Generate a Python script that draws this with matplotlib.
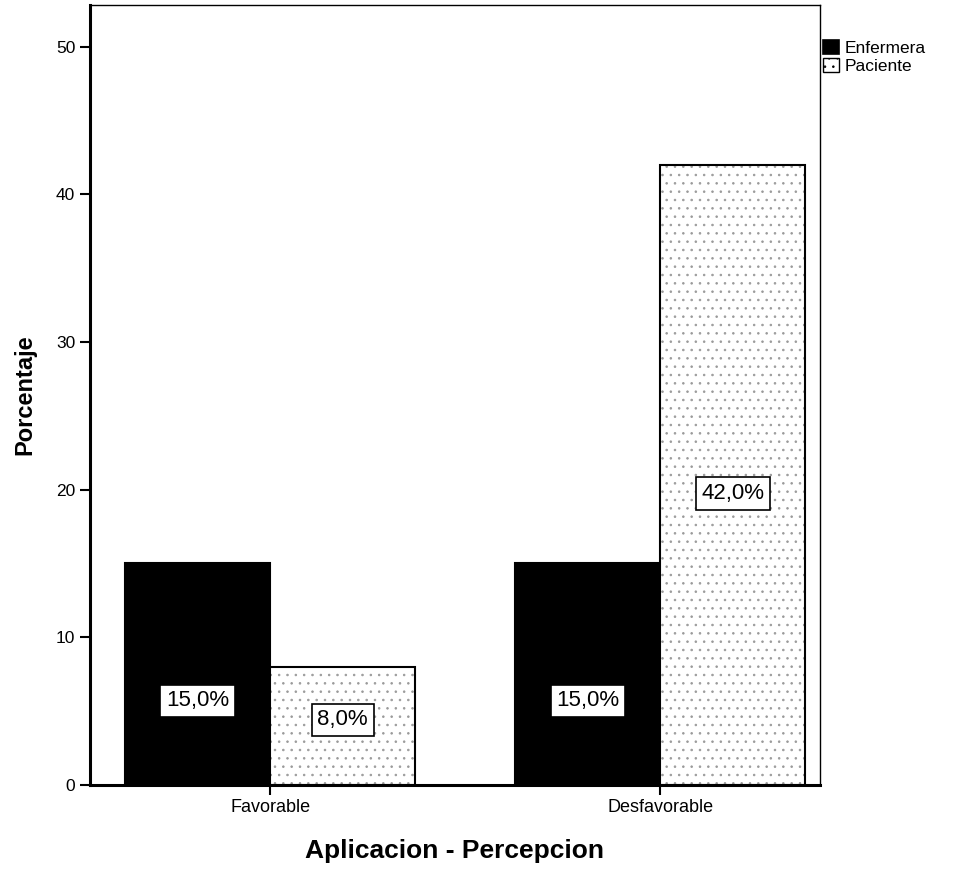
import numpy as np
import matplotlib
matplotlib.use('Agg')
import matplotlib.pyplot as plt
from matplotlib.patches import Patch

plt.rcParams['font.family'] = ['Liberation Sans', 'DejaVu Sans']
plt.rcParams['hatch.linewidth'] = 0.6

# Data
categories = ['Favorable', 'Desfavorable']
series_names = ['Enfermera', 'Paciente']
enfermera = [15.0, 15.0]
paciente = [8.0, 42.0]
y_ticks = [0, 10, 20, 30, 40, 50]

# label height as a fraction of the bar (style)
label_frac_enf = [0.38, 0.38]
label_frac_pac = [0.55, 0.47]

fig = plt.figure(figsize=(9.66, 8.96), dpi=100)
ax = fig.add_axes([0.093, 0.124, 0.756, 0.870])

x = np.arange(len(categories))
w = 0.372

bars_e = ax.bar(x - w / 2, enfermera, width=w, color='black',
                edgecolor='black', linewidth=1.5)
bars_p = ax.bar(x + w / 2, paciente, width=w, color='white',
                edgecolor='#9a9a9a', linewidth=0, hatch='..')
# black outline on top of the dotted fill
for b in bars_p:
    ax.add_patch(plt.Rectangle(b.get_xy(), b.get_width(), b.get_height(),
                               fill=False, edgecolor='black', linewidth=1.5))

box = dict(boxstyle='square,pad=0.25', facecolor='white',
           edgecolor='black', linewidth=1.2)
for bars, fracs in [(bars_e, label_frac_enf), (bars_p, label_frac_pac)]:
    for b, f in zip(bars, fracs):
        h = b.get_height()
        ax.text(b.get_x() + b.get_width() / 2, h * f,
                f'{h:.1f}%'.replace('.', ','),
                ha='center', va='center', fontsize=16, bbox=box)

ax.set_xlim(-0.462, 1.41)
ax.set_ylim(0, 52.8)
ax.set_xticks(x)
ax.set_xticklabels(categories, fontsize=13)
ax.set_yticks(y_ticks)
ax.set_yticklabels([str(t) for t in y_ticks], fontsize=12.5)
ax.tick_params(axis='both', direction='out', length=7, width=1.5, color='black')

for s in ['left', 'bottom']:
    ax.spines[s].set_linewidth(2.2)
for s in ['top', 'right']:
    ax.spines[s].set_linewidth(1.0)

ax.set_ylabel('Porcentaje', fontsize=17, fontweight='bold', labelpad=14)
ax.set_xlabel('Aplicacion - Percepcion', fontsize=19, fontweight='bold', labelpad=16)

handles = [Patch(facecolor='black', edgecolor='black', linewidth=1.2),
           Patch(facecolor='white', edgecolor='black', linewidth=1.0, hatch='..')]
ax.legend(handles, series_names, loc='upper left', bbox_to_anchor=(0.995, 0.965),
          frameon=False, fontsize=12.5, handlelength=0.9, handleheight=0.9,
          handletextpad=0.3, labelspacing=0.1, borderaxespad=0)

fig.savefig('out.png', dpi=100, facecolor='white')
